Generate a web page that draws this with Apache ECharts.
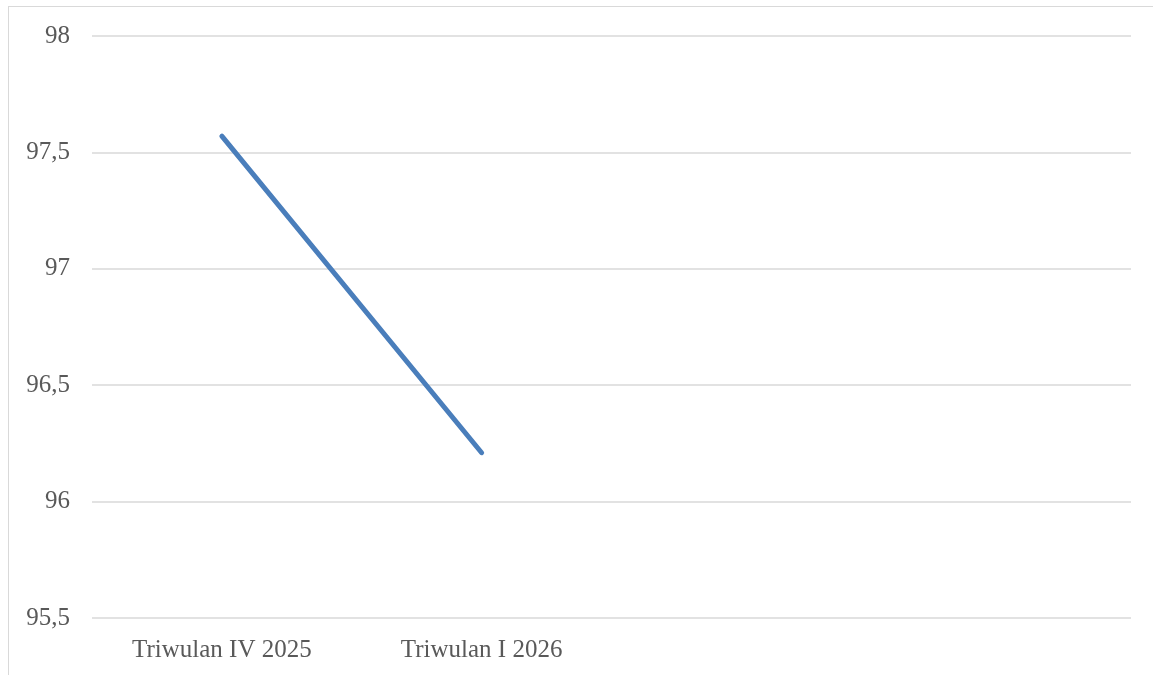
<!DOCTYPE html>
<html>
<head>
<meta charset="utf-8">
<script src="https://cdn.jsdelivr.net/npm/echarts@6/dist/echarts.min.js"></script>
<style>
  html, body { margin: 0; padding: 0; background: #fff; }
  #frame {
    position: absolute; left: 8px; top: 6px; right: 0; bottom: 0;
    border-left: 1px solid #d9d9d9; border-top: 1px solid #d9d9d9;
  }
  #chart { position: absolute; left: 0; top: 0; width: 1153px; height: 675px; }
</style>
</head>
<body>
<div id="frame"></div>
<div id="chart"></div>
<script>
// categories (two empty slots on the right, as in the source chart)
var categories = ['Triwulan IV 2025', 'Triwulan I 2026', '', '']
var values = [97.57, 96.21, null, null]
var yMin = 95.5
var yMax = 98
var yStep = 0.5

var chart = echarts.init(document.getElementById('chart'))
var labelFont = { fontFamily: 'Liberation Serif', fontSize: 25, color: '#595959' }

chart.setOption({
  animation: false,
  grid: { left: 92, right: 22, top: 36, bottom: 57 },
  xAxis: {
    type: 'category',
    data: categories,
    boundaryGap: true,
    axisLine: { show: false },
    axisTick: { show: false },
    axisLabel: Object.assign({ margin: 20, interval: 0 }, labelFont)
  },
  yAxis: {
    type: 'value',
    min: yMin,
    max: yMax,
    interval: yStep,
    axisLine: { show: false },
    axisTick: { show: false },
    splitLine: { lineStyle: { color: '#d9d9d9', width: 1.5 } },
    axisLabel: Object.assign({
      margin: 22,
      formatter: function(v) { return String(v).replace('.', ',') }
    }, labelFont)
  },
  series: [{
    type: 'line',
    data: values,
    showSymbol: false,
    symbol: 'none',
    lineStyle: { color: '#4a7ebb', width: 5, cap: 'round' }
  }]
})
</script>
</body>
</html>
